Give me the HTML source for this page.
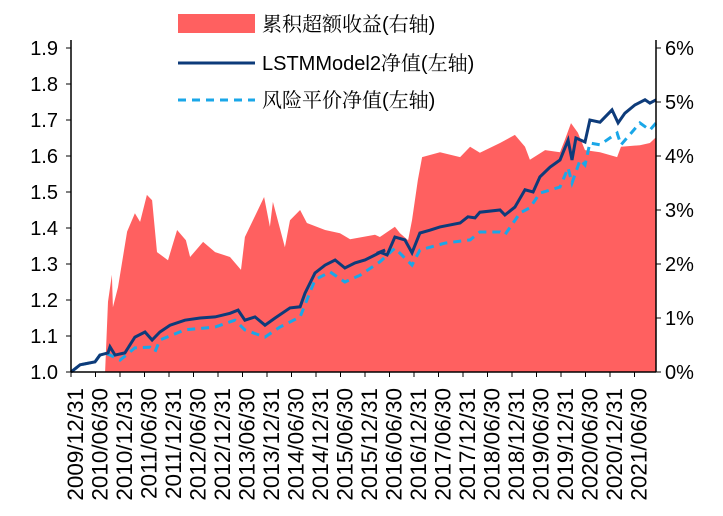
<!DOCTYPE html>
<html><head><meta charset="utf-8"><style>
html,body{margin:0;padding:0;background:#fff;}
svg{display:block;font-family:"Liberation Sans","Noto Serif CJK SC",sans-serif;}
</style></head><body>
<svg id="chart" width="723" height="516" viewBox="0 0 723 516">
<g id="area"></g>
<g id="axes"></g>
<g>
<rect x="178" y="14" width="77" height="19" fill="#FF6060"/>
<text x="262" y="31" font-size="20">累积超额收益(右轴)</text>
<line x1="178" y1="63" x2="255" y2="63" stroke="#0D3B7A" stroke-width="3"/>
<text x="262" y="70" font-size="20">LSTMModel2净值(左轴)</text>
<line x1="178" y1="100" x2="255" y2="100" stroke="#1AA7E8" stroke-width="3" stroke-dasharray="8,6"/>
<text x="262" y="107" font-size="20">风险平价净值(左轴)</text>
</g>
</svg>
<script>
// time in half-year index since 2009/12/31
const xLabels=["2009/12/31","2010/06/30","2010/12/31","2011/06/30","2011/12/31","2012/06/30","2012/12/31","2013/06/30","2013/12/31","2014/06/30","2014/12/31","2015/06/30","2015/12/31","2016/06/30","2016/12/31","2017/06/30","2017/12/31","2018/06/30","2018/12/31","2019/06/30","2019/12/31","2020/06/30","2020/12/31","2021/06/30"];
const leftTicks=[1.0,1.1,1.2,1.3,1.4,1.5,1.6,1.7,1.8,1.9];
const rightTicks=[0,1,2,3,4,5,6];
const excessT=[0,1.39,1.51,1.67,1.71,1.92,2.29,2.61,2.82,3.10,3.31,3.51,3.96,4.33,4.69,4.86,5.39,5.88,6.49,6.94,7.10,7.63,7.88,8.12,8.24,8.73,8.94,9.35,9.63,10.37,10.98,11.39,12.41,12.61,13.22,13.43,13.76,13.92,14.16,14.33,15.06,15.88,16.29,16.69,17.51,18.12,18.53,18.73,19.35,19.96,20.16,20.41,20.69,20.98,21.59,22.29,22.45,23.22,23.63,23.88];
const excessV=[0,0,1.3,1.8,1.2,1.57,2.6,2.94,2.78,3.28,3.18,2.22,2.07,2.63,2.44,2.13,2.41,2.22,2.13,1.89,2.5,3.0,3.24,2.69,3.15,2.31,2.81,3.0,2.76,2.63,2.57,2.46,2.54,2.5,2.69,2.57,2.44,2.81,3.56,3.98,4.07,3.98,4.17,4.06,4.24,4.39,4.17,3.93,4.11,4.07,4.3,4.61,4.43,4.11,4.07,3.98,4.17,4.2,4.24,4.35];
const lstmT=[0,0.37,0.98,1.18,1.51,1.59,1.80,2.2,2.61,3.02,3.31,3.63,4.04,4.65,5.27,5.88,6.49,6.82,7.10,7.51,7.92,8.33,8.94,9.35,9.55,9.96,10.37,10.78,11.18,11.59,12.0,12.41,12.82,12.61,12.90,13.22,13.63,13.92,14.24,14.65,15.06,15.88,16.20,16.49,16.69,17.51,17.71,18.12,18.53,18.86,19.14,19.55,19.96,20.29,20.45,20.61,20.98,21.18,21.59,22.08,22.33,22.61,23.02,23.43,23.63,23.88];
const lstmV=[1.0,1.02,1.028,1.047,1.053,1.07,1.047,1.053,1.097,1.111,1.089,1.111,1.13,1.144,1.15,1.153,1.163,1.172,1.144,1.153,1.13,1.15,1.178,1.181,1.219,1.275,1.297,1.311,1.289,1.303,1.311,1.325,1.339,1.333,1.325,1.375,1.367,1.331,1.386,1.394,1.403,1.414,1.431,1.428,1.444,1.45,1.436,1.458,1.506,1.5,1.542,1.569,1.589,1.644,1.589,1.65,1.639,1.7,1.694,1.728,1.692,1.719,1.742,1.756,1.747,1.756];
const rpT=[0,0.37,0.98,1.18,1.51,2.0,2.61,3.22,3.43,3.63,4.65,5.88,6.69,7.10,7.92,8.53,9.35,9.96,10.57,11.18,11.80,12.41,12.61,13.22,13.92,14.24,15.27,16.29,16.69,17.51,17.71,18.33,18.73,19.14,19.96,20.29,20.45,20.78,20.98,21.18,21.59,22.29,22.45,23.22,23.63,23.88];
const rpV=[1.0,1.02,1.028,1.047,1.05,1.033,1.067,1.069,1.056,1.089,1.117,1.125,1.144,1.117,1.097,1.125,1.153,1.256,1.278,1.25,1.269,1.297,1.306,1.344,1.297,1.339,1.358,1.367,1.389,1.389,1.381,1.442,1.456,1.497,1.514,1.567,1.525,1.589,1.575,1.636,1.631,1.664,1.631,1.692,1.672,1.692];

const NS="http://www.w3.org/2000/svg";
const X0=71,XSTEP=24.5,YB=372;
const xs=t=>X0+t*XSTEP;
const yl=v=>YB-(v-1)*360;
const yr=v=>YB-v*54;
function mk(tag,attrs,parent){const e=document.createElementNS(NS,tag);for(const k in attrs)e.setAttribute(k,attrs[k]);parent.appendChild(e);return e;}
const area=document.getElementById('area'),axes=document.getElementById('axes');

let d="M"+xs(excessT[0])+","+YB;
excessT.forEach((t,i)=>{d+=" L"+xs(t).toFixed(1)+","+yr(excessV[i]).toFixed(1);});
d+=" L"+xs(excessT[excessT.length-1])+","+YB+" Z";
const ea=mk('path',{d:d,fill:"#FF6060"},area);



function line(T,V,attrs,name){const p=mk('path',Object.assign({d:T.map((t,i)=>(i?"L":"M")+xs(t).toFixed(1)+","+yl(V[i]).toFixed(1)).join(" "),fill:"none"},attrs),area);

}
line(rpT,rpV,{stroke:"#1AA7E8","stroke-width":3,"stroke-dasharray":"8,6"},'riskparity-line');
line(lstmT,lstmV,{stroke:"#0D3B7A","stroke-width":3},'lstm-line');

mk('line',{x1:71,y1:40,x2:71,y2:YB,stroke:"#000","stroke-width":1.5},axes);
mk('line',{x1:656,y1:40,x2:656,y2:YB,stroke:"#000","stroke-width":1.5},axes);
mk('line',{x1:71,y1:YB,x2:656,y2:YB,stroke:"#000","stroke-width":1.5},axes);
leftTicks.forEach(v=>{const y=yl(v);mk('line',{x1:66,y1:y,x2:71,y2:y,stroke:"#000"},axes);
const tx=mk('text',{x:58,y:y+7,"font-size":20,"text-anchor":"end"},axes);tx.textContent=v.toFixed(1);

});
rightTicks.forEach(v=>{const y=yr(v);mk('line',{x1:656,y1:y,x2:661,y2:y,stroke:"#000"},axes);
const tx=mk('text',{x:665,y:y+7,"font-size":20},axes);tx.textContent=v+"%";

});
xLabels.forEach((s,i)=>{const x=xs(i);mk('line',{x1:x,y1:YB,x2:x,y2:YB+5,stroke:"#000"},axes);
const tx=mk('text',{x:0,y:0,"font-size":22.5,"text-anchor":"end",transform:"translate("+(x+12)+","+(YB+16)+") rotate(-90)"},axes);tx.textContent=s;

});
</script>
</body></html>
